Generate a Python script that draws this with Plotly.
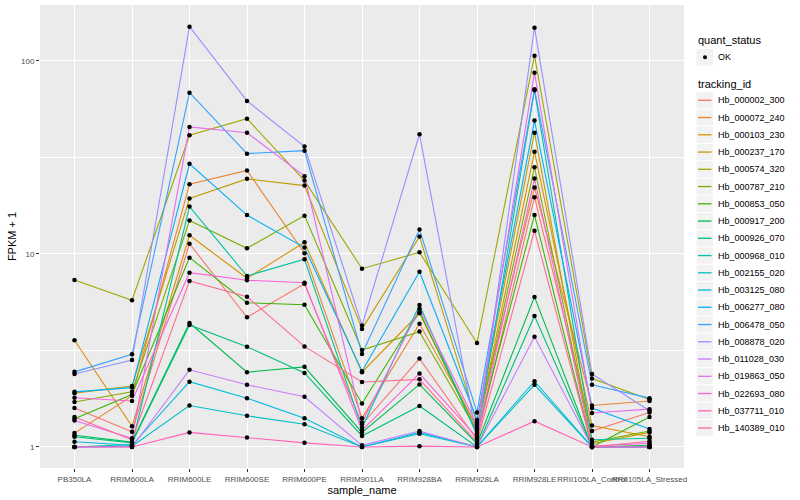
import plotly.graph_objects as go

samples = ["PB350LA", "RRIM600LA", "RRIM600LE", "RRIM600SE", "RRIM600PE", "RRIM901LA",
           "RRIM928BA", "RRIM928LA", "RRIM928LE", "RRII105LA_Control", "RRII105LA_Stressed"]

tracking_ids = ["Hb_000002_300", "Hb_000072_240", "Hb_000103_230", "Hb_000237_170", "Hb_000574_320",
                "Hb_000787_210", "Hb_000853_050", "Hb_000917_200", "Hb_000926_070", "Hb_000968_010",
                "Hb_002155_020", "Hb_003125_080", "Hb_006277_080", "Hb_006478_050", "Hb_008878_020",
                "Hb_011028_030", "Hb_019863_050", "Hb_022693_080", "Hb_037711_010", "Hb_140389_010"]

hb_000002_300 = [1.59, 1.20, 11.3, 4.70, 7.0, 1.31, 2.87, 1.09, 19.7, 1.21, 1.51]
hb_000072_240 = [1.18, 1.84, 23.0, 27.1, 10.1, 1.41, 4.35, 1.27, 22.1, 1.64, 1.73]
hb_000103_230 = [3.57, 1.28, 12.5, 7.48, 11.5, 2.44, 4.93, 1.24, 33.9, 1.29, 1.13]
hb_000237_170 = [1.90, 2.07, 19.4, 24.5, 22.6, 4.09, 12.3, 1.33, 42.5, 1.04, 1.19]
hb_000574_320 = [7.33, 5.76, 41.2, 50.2, 24.0, 8.39, 10.2, 3.46, 106.5, 2.26, 1.76]
hb_000787_210 = [1.71, 1.93, 14.9, 10.7, 15.8, 3.18, 3.96, 1.21, 28.1, 1.06, 1.21]
hb_000853_050 = [1.40, 1.87, 9.57, 5.59, 5.46, 1.68, 5.02, 1.18, 15.9, 1.0, 1.43]
hb_000917_200 = [1.15, 1.06, 4.39, 2.44, 2.60, 1.19, 2.11, 1.04, 5.99, 1.0, 1.02]
hb_000926_070 = [1.13, 1.05, 4.29, 3.31, 2.42, 1.14, 1.63, 1.0, 4.77, 1.0, 1.0]
hb_000968_010 = [1.0, 1.03, 17.6, 7.69, 9.39, 1.26, 5.44, 1.15, 70.5, 1.09, 1.11]
hb_002155_020 = [1.0, 1.01, 1.64, 1.45, 1.31, 1.0, 1.17, 1.0, 2.10, 1.0, 1.0]
hb_003125_080 = [1.065, 1.02, 2.18, 1.79, 1.41, 1.0, 1.19, 1.0, 2.19, 1.0, 1.0]
hb_006277_080 = [1.93, 2.03, 29.3, 15.9, 10.8, 2.47, 8.09, 1.38, 49.1, 1.59, 1.24]
hb_006478_050 = [2.45, 3.02, 68.5, 33.1, 34.3, 3.03, 13.4, 1.51, 71.3, 2.10, 1.79]
hb_008878_020 = [2.39, 2.82, 150.6, 62.1, 36.0, 4.26, 41.7, 1.10, 148.8, 2.39, 1.54]
hb_011028_030 = [1.0, 1.0, 2.51, 2.10, 1.82, 1.02, 1.21, 1.0, 3.72, 1.0, 1.0]
hb_019863_050 = [1.37, 1.11, 45.5, 42.5, 25.3, 1.34, 5.2, 1.30, 87.0, 1.50, 1.57]
hb_022693_080 = [1.80, 1.73, 8.0, 7.31, 7.1, 1.22, 2.40, 1.12, 24.6, 1.01, 1.045]
hb_037711_010 = [1.0, 1.0, 1.19, 1.12, 1.05, 1.0, 1.01, 1.0, 1.36, 1.0, 1.0]
hb_140389_010 = [1.43, 1.09, 7.25, 6.01, 3.32, 2.17, 2.24, 1.06, 13.2, 1.0, 1.07]

series_values = [hb_000002_300, hb_000072_240, hb_000103_230, hb_000237_170, hb_000574_320,
                 hb_000787_210, hb_000853_050, hb_000917_200, hb_000926_070, hb_000968_010,
                 hb_002155_020, hb_003125_080, hb_006277_080, hb_006478_050, hb_008878_020,
                 hb_011028_030, hb_019863_050, hb_022693_080, hb_037711_010, hb_140389_010]

colors = ["#F8766D", "#EA8331", "#D89000", "#C09B00", "#A3A500", "#7CAE00", "#39B600", "#00BB4E",
          "#00BF7D", "#00C1A3", "#00BFC4", "#00BAE0", "#00B0F6", "#35A2FF", "#9590FF", "#C77CFF",
          "#E76BF3", "#FA62DB", "#FF62BC", "#FF6C91"]

W, H = 800, 500
ML, MR, MT, MB = 40, 116, 5, 32
PW, PH = W - ML - MR, H - MT - MB


def px(x):
    return (x - ML) / PW


def py(y):
    return (H - MB - y) / PH


font_family = "Liberation Sans, Arial, sans-serif"
fig = go.Figure()

for i, (tid, vals) in enumerate(zip(tracking_ids, series_values)):
    fig.add_trace(go.Scatter(
        x=samples, y=vals, mode="lines", name=tid,
        line=dict(color=colors[i], width=1.1), showlegend=False))

all_x = [s for vals in series_values for s in samples]
all_y = [v for vals in series_values for v in vals]
fig.add_trace(go.Scatter(
    x=all_x, y=all_y, mode="markers", name="OK",
    marker=dict(color="black", size=4.5, symbol="circle"), showlegend=False))

# manual legend (ggplot style)
shapes = []
annotations = []
annotations.append(dict(x=px(696), y=py(40.5), xref="paper", yref="paper", text="quant_status",
                        showarrow=False, xanchor="left", yanchor="middle",
                        font=dict(size=11, color="black")))
shapes.append(dict(type="rect", xref="paper", yref="paper", x0=px(696.5), x1=px(713),
                   y0=py(49), y1=py(65.5), fillcolor="#F2F2F2", line=dict(width=0), layer="above"))
shapes.append(dict(type="circle", xref="paper", yref="paper", x0=px(703), x1=px(707),
                   y0=py(55.3), y1=py(59.3), fillcolor="black", line=dict(width=0), layer="above"))
annotations.append(dict(x=px(716), y=py(57.3), xref="paper", yref="paper", text="OK",
                        showarrow=False, xanchor="left", yanchor="middle",
                        font=dict(size=9, color="black")))
annotations.append(dict(x=px(696), y=py(84), xref="paper", yref="paper", text="tracking_id",
                        showarrow=False, xanchor="left", yanchor="middle",
                        font=dict(size=11, color="black")))
step = 17.25
for i, tid in enumerate(tracking_ids):
    cy = 100.3 + i * step
    shapes.append(dict(type="rect", xref="paper", yref="paper", x0=px(696.5), x1=px(713),
                       y0=py(cy - 8.1), y1=py(cy + 8.1), fillcolor="#F2F2F2",
                       line=dict(width=0), layer="above"))
    shapes.append(dict(type="line", xref="paper", yref="paper", x0=px(698), x1=px(711.5),
                       y0=py(cy), y1=py(cy), line=dict(color=colors[i], width=1.3), layer="above"))
    annotations.append(dict(x=px(716), y=py(cy), xref="paper", yref="paper", text=tid,
                            showarrow=False, xanchor="left", yanchor="middle",
                            font=dict(size=9, color="black")))

fig.update_layout(
    width=W, height=H,
    margin=dict(l=ML, r=MR, t=MT, b=MB, autoexpand=False),
    paper_bgcolor="white", plot_bgcolor="#EBEBEB",
    font=dict(family=font_family, size=9, color="black"),
    showlegend=False,
    shapes=shapes, annotations=annotations,
    xaxis=dict(type="category", categoryorder="array", categoryarray=samples,
               range=[-0.6, 10.6], showgrid=True, gridcolor="white", gridwidth=1.1,
               zeroline=False, tickangle=0, ticks="outside", ticklen=3, tickcolor="#333333",
               tickfont=dict(size=8, color="#4D4D4D"), automargin=False,
               title=dict(text="sample_name", font=dict(size=11, color="black"), standoff=0)),
    yaxis=dict(type="log", range=[-0.109, 2.29], tickvals=[1, 10, 100], ticktext=["1", "10", "100"],
               showgrid=True, gridcolor="white", gridwidth=1.1, zeroline=False,
               ticks="outside", ticklen=3, tickcolor="#333333",
               tickfont=dict(size=8, color="#4D4D4D"), automargin=False,
               minor=dict(tickvals=[3.1623, 31.623], showgrid=True, gridcolor="white", gridwidth=0.5, ticks=""),
               title=dict(text="FPKM + 1", font=dict(size=11, color="black"), standoff=2)),
)

fig.write_html("out.html", config={"displayModeBar": False},
               post_script="document.body.style.margin='0';")
